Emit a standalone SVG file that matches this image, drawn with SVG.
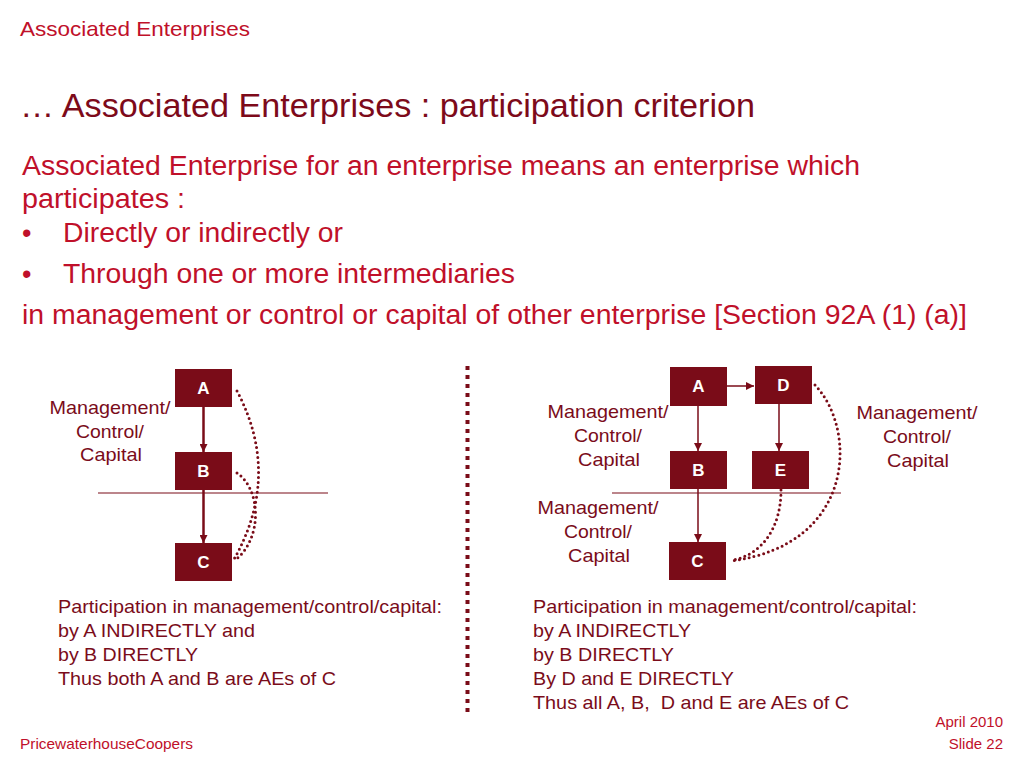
<svg xmlns="http://www.w3.org/2000/svg" width="1024" height="768" viewBox="0 0 1024 768">
<defs>
<style>
text{font-family:"Liberation Sans",Arial,sans-serif}
.hdr{fill:#c0102a;font-size:21px}
.title{fill:#7d0a1a;font-size:34px}
.body{fill:#c0102a;font-size:27px}
.lbl{fill:#7a0c1a;font-size:19px;text-anchor:middle}
.note{fill:#7a0c1a;font-size:19px}
.foot{fill:#c0102a;font-size:15px}
.box{fill:#7a0c18}
.bt{fill:#fff;font-size:17px;font-weight:bold;text-anchor:middle}
.arr{stroke:#7a0c18;fill:none}
.dot{stroke:#7a0c18;fill:none;stroke-width:3;stroke-dasharray:0 5;stroke-linecap:round}
.hl{stroke:#7a0c18;stroke-width:1.2}
</style>
<marker id="ah2" viewBox="0 0 10 10" refX="10" refY="5" markerWidth="8" markerHeight="8" orient="auto" markerUnits="userSpaceOnUse">
<path d="M0,0 L10,5 L0,10 z" fill="#7a0c18"/>
</marker>
</defs>
<rect width="1024" height="768" fill="#fff"/>
<text class="hdr" x="20" y="36" textLength="230" lengthAdjust="spacingAndGlyphs">Associated Enterprises</text>
<text class="title" x="20" y="117" textLength="735" lengthAdjust="spacingAndGlyphs">… Associated Enterprises : participation criterion</text>
<text class="body" x="22" y="175" textLength="838" lengthAdjust="spacingAndGlyphs">Associated Enterprise for an enterprise means an enterprise which</text>
<text class="body" x="22" y="208" textLength="163" lengthAdjust="spacingAndGlyphs">participates :</text>
<text class="body" x="22" y="242">•</text>
<text class="body" x="63" y="242" textLength="280" lengthAdjust="spacingAndGlyphs">Directly or indirectly or</text>
<text class="body" x="22" y="283">•</text>
<text class="body" x="63" y="283" textLength="452" lengthAdjust="spacingAndGlyphs">Through one or more intermediaries</text>
<text class="body" x="22" y="324" textLength="945" lengthAdjust="spacingAndGlyphs">in management or control or capital of other enterprise [Section 92A (1) (a)]</text>

<line x1="467.5" y1="366" x2="467.5" y2="716" stroke="#7a0c18" stroke-width="4" stroke-dasharray="4 5"/>

<g id="connectors">
<line class="hl" x1="98" y1="493" x2="328" y2="493"/>
<line class="hl" x1="612" y1="493" x2="841" y2="493"/>
<line class="arr" x1="203.5" y1="407" x2="203.5" y2="452" stroke-width="2.5" marker-end="url(#ah2)"/>
<line class="arr" x1="203.5" y1="490" x2="203.5" y2="543" stroke-width="2.5" marker-end="url(#ah2)"/>
<path class="dot" d="M237,391 Q282,476 233,561"/>
<path class="dot" d="M237,473 C262,490 262,540 235,560"/>
<line class="arr" x1="727" y1="386" x2="754" y2="386" stroke-width="1.5" marker-end="url(#ah2)"/>
<line class="arr" x1="698" y1="406" x2="698" y2="451" stroke-width="1.5" marker-end="url(#ah2)"/>
<line class="arr" x1="779" y1="404" x2="779" y2="451" stroke-width="1.5" marker-end="url(#ah2)"/>
<line class="arr" x1="698" y1="489" x2="698" y2="542" stroke-width="1.5" marker-end="url(#ah2)"/>
<path class="dot" d="M815,385 C858,430 855,545 731,561"/>
<path class="dot" d="M781,490 C781,530 760,555 733,560"/>
</g>

<g id="nodeL_A"><rect class="box" x="175" y="369" width="57" height="38"/><text class="bt" x="203.5" y="394">A</text></g>
<g id="nodeL_B"><rect class="box" x="175" y="452" width="57" height="38"/><text class="bt" x="203.5" y="477">B</text></g>
<g id="nodeL_C"><rect class="box" x="175" y="543" width="57" height="38"/><text class="bt" x="203.5" y="568">C</text></g>

<g id="nodeR_A"><rect class="box" x="670" y="367" width="57" height="39"/><text class="bt" x="698.5" y="392">A</text></g>
<g id="nodeR_D"><rect class="box" x="755" y="366" width="57" height="38"/><text class="bt" x="783.5" y="391">D</text></g>
<g id="nodeR_B"><rect class="box" x="670" y="451" width="57" height="38"/><text class="bt" x="698.5" y="476">B</text></g>
<g id="nodeR_E"><rect class="box" x="752" y="451" width="57" height="38"/><text class="bt" x="780.5" y="476">E</text></g>
<g id="nodeR_C"><rect class="box" x="669" y="542" width="57" height="38"/><text class="bt" x="697.5" y="567">C</text></g>

<g id="labels">
<text class="lbl" x="110" y="414" textLength="121" lengthAdjust="spacingAndGlyphs">Management/</text>
<text class="lbl" x="110" y="438" textLength="68" lengthAdjust="spacingAndGlyphs">Control/</text>
<text class="lbl" x="111" y="461" textLength="62" lengthAdjust="spacingAndGlyphs">Capital</text>
<text class="lbl" x="608" y="418" textLength="121" lengthAdjust="spacingAndGlyphs">Management/</text>
<text class="lbl" x="608" y="442" textLength="68" lengthAdjust="spacingAndGlyphs">Control/</text>
<text class="lbl" x="609" y="466" textLength="62" lengthAdjust="spacingAndGlyphs">Capital</text>
<text class="lbl" x="598" y="514" textLength="121" lengthAdjust="spacingAndGlyphs">Management/</text>
<text class="lbl" x="598" y="538" textLength="68" lengthAdjust="spacingAndGlyphs">Control/</text>
<text class="lbl" x="599" y="562" textLength="62" lengthAdjust="spacingAndGlyphs">Capital</text>
<text class="lbl" x="917" y="419" textLength="121" lengthAdjust="spacingAndGlyphs">Management/</text>
<text class="lbl" x="917" y="443" textLength="68" lengthAdjust="spacingAndGlyphs">Control/</text>
<text class="lbl" x="918" y="467" textLength="62" lengthAdjust="spacingAndGlyphs">Capital</text>
</g>

<text class="note" x="58" y="613" textLength="384" lengthAdjust="spacingAndGlyphs">Participation in management/control/capital:</text>
<text class="note" x="58" y="637" textLength="197" lengthAdjust="spacingAndGlyphs">by A INDIRECTLY and</text>
<text class="note" x="58" y="661" textLength="140" lengthAdjust="spacingAndGlyphs">by B DIRECTLY</text>
<text class="note" x="58" y="685" textLength="278" lengthAdjust="spacingAndGlyphs">Thus both A and B are AEs of C</text>

<text class="note" x="533" y="613" textLength="384" lengthAdjust="spacingAndGlyphs">Participation in management/control/capital:</text>
<text class="note" x="533" y="637" textLength="158" lengthAdjust="spacingAndGlyphs">by A INDIRECTLY</text>
<text class="note" x="533" y="661" textLength="141" lengthAdjust="spacingAndGlyphs">by B DIRECTLY</text>
<text class="note" x="533" y="685" textLength="201" lengthAdjust="spacingAndGlyphs">By D and E DIRECTLY</text>
<text class="note" x="533" y="709" textLength="316" lengthAdjust="spacingAndGlyphs">Thus all A, B, &#160;D and E are AEs of C</text>

<text class="foot" x="20" y="749" textLength="173" lengthAdjust="spacingAndGlyphs">PricewaterhouseCoopers</text>
<text class="foot" x="1003" y="727" text-anchor="end">April 2010</text>
<text class="foot" x="1003" y="749" text-anchor="end">Slide 22</text>
</svg>
